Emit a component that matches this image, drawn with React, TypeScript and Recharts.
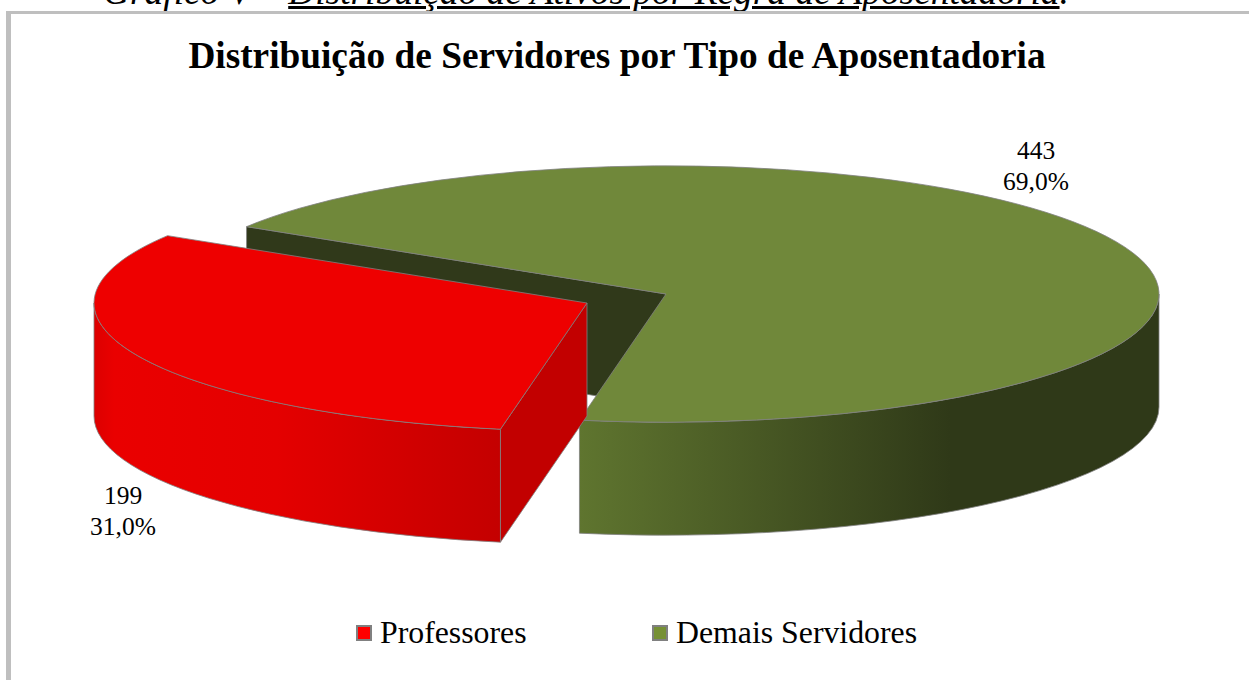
import React from 'react'
import { PieChart, Pie, Legend } from 'recharts'

// Pizza 3D "explodida": o Recharts calcula os ângulos, o shape desenha a elipse com espessura
const CATEGORIES = ['Demais Servidores', 'Professores']
const VALUES = [443, 199]
const LEGEND_ORDER = ['Professores', 'Demais Servidores']

const COLORS: Record<string, { top: string; cut: string; grad: string[][] }> = {
  Professores: {
    top: '#ee0000',
    cut: '#c20000',
    grad: [['0', '#dc0000'], ['0.05', '#ea0000'], ['0.45', '#e40000'], ['1', '#c40000']],
  },
  'Demais Servidores': {
    top: '#70883a',
    cut: '#30391a',
    grad: [['0', '#5f752f'], ['0.64', '#2f3918'], ['1', '#2f3918']],
  },
}
const LEGEND_COLORS: Record<string, string> = { Professores: '#ff0000', 'Demais Servidores': '#769035' }

const FONT = '"Liberation Serif", serif'
const W = 1249
const H = 680
const CX = 666
const CY = 294
const RX = 493
const RY_RATIO = 0.26
const DEPTH = 113
const START_ANGLE = 148.3
const EXPLODE: Record<string, number[]> = { Professores: [-79, 9], 'Demais Servidores': [0, 0] }
const LABEL_POS: Record<string, number[]> = { Professores: [123, 504], 'Demais Servidores': [1036, 159] }

const chartData = CATEGORIES.map((name, i) => ({ name, value: VALUES[i] }))

const rad = (a: number) => (a * Math.PI) / 180

function Wedge(props: any) {
  const { cx, cy, outerRadius, startAngle, endAngle, payload } = props
  const name = payload.name
  const [dx, dy] = EXPLODE[name]
  const c = COLORS[name]
  const ox = cx + dx
  const oy = cy + dy
  const rx = outerRadius
  const ry = outerRadius * RY_RATIO
  const pt = (t: number, d = 0) => [ox + rx * Math.cos(rad(t)), oy - ry * Math.sin(rad(t)) + d]
  const p = (q: number[]) => `${q[0].toFixed(2)} ${q[1].toFixed(2)}`

  const s = pt(startAngle)
  const e = pt(endAngle)
  const large = startAngle - endAngle > 180 ? 1 : 0
  const top = `M${ox} ${oy} L${p(s)} A${rx} ${ry} 0 ${large} 1 ${p(e)} Z`

  // parede externa: só o trecho da frente da elipse (seno negativo)
  const hi = Math.min(startAngle, 0)
  const lo = Math.max(endAngle, -180)
  const wall =
    `M${p(pt(hi))} A${rx} ${ry} 0 0 1 ${p(pt(lo))} ` +
    `L${p(pt(lo, DEPTH))} A${rx} ${ry} 0 0 0 ${p(pt(hi, DEPTH))} Z`

  // face de corte que fica virada para quem olha
  const q = pt(startAngle)
  const cut = `M${ox} ${oy} L${p(q)} L${q[0].toFixed(2)} ${(q[1] + DEPTH).toFixed(2)} L${ox} ${oy + DEPTH} Z`

  const gradId = name === 'Professores' ? 'wall-red' : 'wall-green'
  return (
    <g>
      <defs>
        <linearGradient id={gradId} x1="0" y1="0" x2="1" y2="0">
          {c.grad.map(([o, col]) => (
            <stop key={o} offset={o} stopColor={col} />
          ))}
        </linearGradient>
      </defs>
      <path d={cut} fill={c.cut} stroke="#808080" strokeWidth={0.8} />
      <path d={wall} fill={`url(#${gradId})`} stroke="#808080" strokeWidth={0.8} />
      <path d={top} fill={c.top} stroke="#808080" strokeWidth={0.8} />
    </g>
  )
}

function renderLabel(props: any) {
  const { name, value, percent } = props
  const [x, y] = LABEL_POS[name]
  return (
    <text x={x} y={y} textAnchor="middle" fontFamily={FONT} fontSize={25.5} fill="#000">
      <tspan x={x} dy={0}>{value}</tspan>
      <tspan x={x} dy={31}>{(percent * 100).toFixed(1).replace('.', ',')}%</tspan>
    </text>
  )
}

function LegendBox() {
  const spots: Record<string, number> = { Professores: 356, 'Demais Servidores': 652 }
  return (
    <div style={{ position: 'relative', width: W, height: 44, fontFamily: FONT, fontSize: 31.8, color: '#000' }}>
      {LEGEND_ORDER.map((name) => (
        <div key={name} style={{ position: 'absolute', left: spots[name], top: -1, display: 'flex', alignItems: 'center', lineHeight: '44px', whiteSpace: 'nowrap' }}>
          <span style={{ flexShrink: 0, boxSizing: 'border-box', width: 16, height: 16, background: LEGEND_COLORS[name], border: '2.5px solid #808080', marginRight: 8 }} />
          {name}
        </div>
      ))}
    </div>
  )
}

export default function App() {
  return (
    <div style={{ position: 'absolute', left: 0, top: 0, width: W, height: H, overflow: 'hidden', background: '#fff', fontFamily: FONT }}>
      {/* legenda do gráfico, cortada no topo como no original */}
      <div style={{ position: 'absolute', left: 103, top: -29, fontSize: 37.4, fontStyle: 'italic', whiteSpace: 'nowrap', lineHeight: '42px' }}>
        Gráfico V – <u>Distribuição de Ativos por Regra de Aposentadoria</u>.
      </div>
      <div style={{ position: 'absolute', left: 6, top: 11, width: W, height: H, borderLeft: '5px solid #bfbfbf', borderTop: '3px solid #bfbfbf', boxSizing: 'border-box' }} />
      <div style={{ position: 'absolute', left: 0, top: 35, width: 1234, textAlign: 'center', fontSize: 37.3, fontWeight: 'bold', lineHeight: '42px', whiteSpace: 'nowrap' }}>
        Distribuição de Servidores por Tipo de Aposentadoria
      </div>
      <div style={{ position: 'absolute', left: 0, top: 0 }}>
        <PieChart width={W} height={H} margin={{ top: 0, right: 0, bottom: 0, left: 0 }}>
          <Pie
            data={chartData}
            dataKey="value"
            nameKey="name"
            cx={CX}
            cy={CY}
            outerRadius={RX}
            innerRadius={0}
            startAngle={START_ANGLE}
            endAngle={START_ANGLE - 360}
            paddingAngle={0}
            stroke="none"
            shape={Wedge}
            label={renderLabel}
            labelLine={false}
            isAnimationActive={false}
          />
          <Legend content={<LegendBox />} wrapperStyle={{ left: 0, top: 612, width: W }} />
        </PieChart>
      </div>
    </div>
  )
}
